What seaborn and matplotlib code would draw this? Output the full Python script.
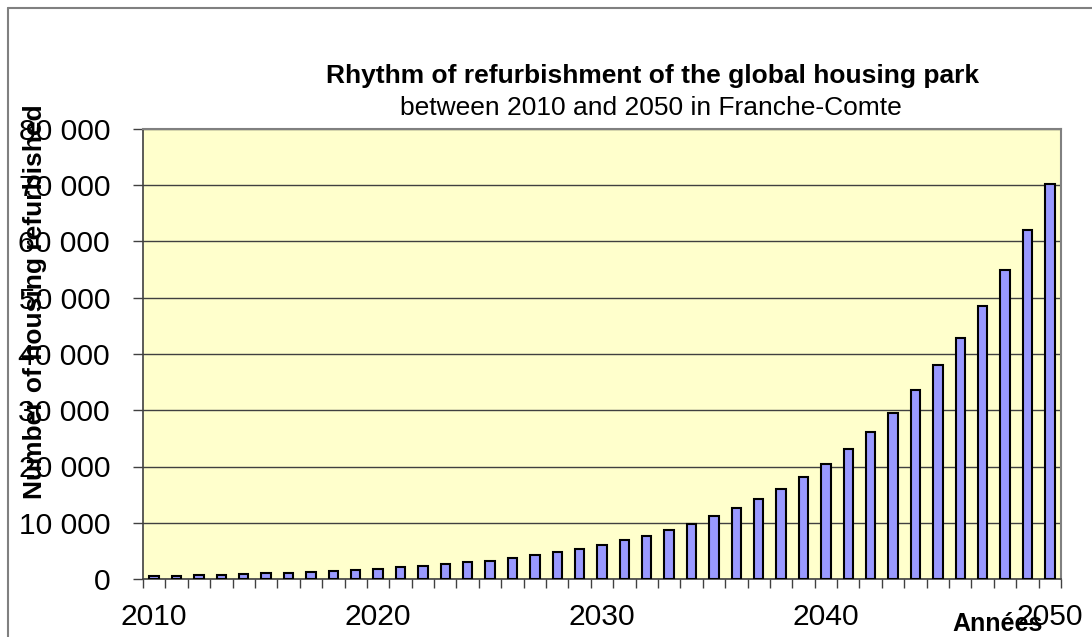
import matplotlib
matplotlib.use("Agg")
import matplotlib.pyplot as plt
import seaborn as sns
import pandas as pd
from matplotlib.ticker import FuncFormatter, FixedLocator
from matplotlib.lines import Line2D

# ---- data ----
years = list(range(2010, 2051))
refurbished = [550, 620, 700, 790, 890, 1000, 1120, 1260, 1420, 1600,
               1820, 2060, 2320, 2620, 2950, 3280, 3740, 4220, 4750, 5350,
               6060, 6890, 7720, 8670, 9800, 11170, 12540, 14200, 16000, 18200,
               20500, 23200, 26200, 29600, 33600, 38000, 42900, 48500, 54900, 62100,
               70200]
xtick_labels = ["2010", "2020", "2030", "2040", "2050"]
yticks = [0, 10000, 20000, 30000, 40000, 50000, 60000, 70000, 80000]

title_main = "Rhythm of refurbishment of the global housing park"
title_sub = "between 2010 and 2050 in Franche-Comte"
ylabel = "Number of housing refurbished"
xlabel = "Années"

sns.set_theme(style="white")
plt.rcParams['font.family'] = ['Liberation Sans', 'DejaVu Sans']
plt.rcParams['text.color'] = 'black'
plt.rcParams['axes.labelcolor'] = 'black'
plt.rcParams['xtick.color'] = 'black'
plt.rcParams['ytick.color'] = 'black'

W, H = 1092, 637
fig = plt.figure(figsize=(W / 100, H / 100), dpi=100)
fig.patch.set_facecolor("white")
ax = fig.add_axes([143 / W, 1 - 579 / H, (1061 - 143) / W, (579 - 129) / H])
ax.set_facecolor("#FFFFCC")

df = pd.DataFrame({"year": [str(y) for y in years], "value": refurbished})
sns.barplot(data=df, x="year", y="value", color="#9999FF", saturation=1,
            edgecolor="black", linewidth=1.5, width=0.42, ax=ax, zorder=3)

ax.set_xlim(-0.5, len(years) - 0.5)
ax.set_ylim(0, 80000)

# y axis
ax.yaxis.set_major_locator(FixedLocator(yticks))
ax.yaxis.set_major_formatter(FuncFormatter(lambda v, p: f"{int(v):,}".replace(",", " ")))
ax.tick_params(axis="y", which="major", direction="out", length=7.2, width=1,
               color="#404040", pad=16.5, labelsize=21.6, labelcolor="black", left=True)
ax.yaxis.grid(True, color="#404040", linewidth=1.0, zorder=1)
ax.set_axisbelow(True)

# x axis
label_pos = [years.index(int(t)) for t in xtick_labels]
ax.set_xticks(label_pos)
ax.set_xticklabels(xtick_labels)
ax.set_xticks([i - 0.5 for i in range(len(years) + 1)], minor=True)
ax.tick_params(axis="x", which="major", length=0, pad=17, labelsize=21.6, labelcolor="black")
ax.tick_params(axis="x", which="minor", direction="out", length=6.5, width=1,
               color="#404040", bottom=True)

for side in ["left", "bottom"]:
    ax.spines[side].set_color("#404040")
    ax.spines[side].set_linewidth(1.2)
for side in ["top", "right"]:
    ax.spines[side].set_color("#808080")
    ax.spines[side].set_linewidth(1.5)
    ax.spines[side].set_visible(True)

ax.set_ylabel(ylabel, fontsize=19, fontweight="bold", va="center", ha="center", color="black")
ax.yaxis.set_label_coords((35 - 143) / 918, (579 - 302) / 450)
ax.set_xlabel(xlabel, fontsize=18, fontweight="bold", ha="right", va="center", color="black")
ax.xaxis.set_label_coords((1043 - 143) / 918, (579 - 624) / 450)

fig.text(653 / W, 1 - 83 / H, title_main, ha="center", va="baseline",
         fontsize=19, fontweight="bold", color="black")
fig.text(651 / W, 1 - 115 / H, title_sub, ha="center", va="baseline", fontsize=19,
         color="black")

# outer chart frame
fig.add_artist(Line2D([8 / W, 8 / W], [0, 1 - 8 / H], transform=fig.transFigure,
                      color="#808080", linewidth=1.5))
fig.add_artist(Line2D([8 / W, 1], [1 - 8 / H, 1 - 8 / H], transform=fig.transFigure,
                      color="#808080", linewidth=1.5))

fig.savefig("out.png", dpi=100)
